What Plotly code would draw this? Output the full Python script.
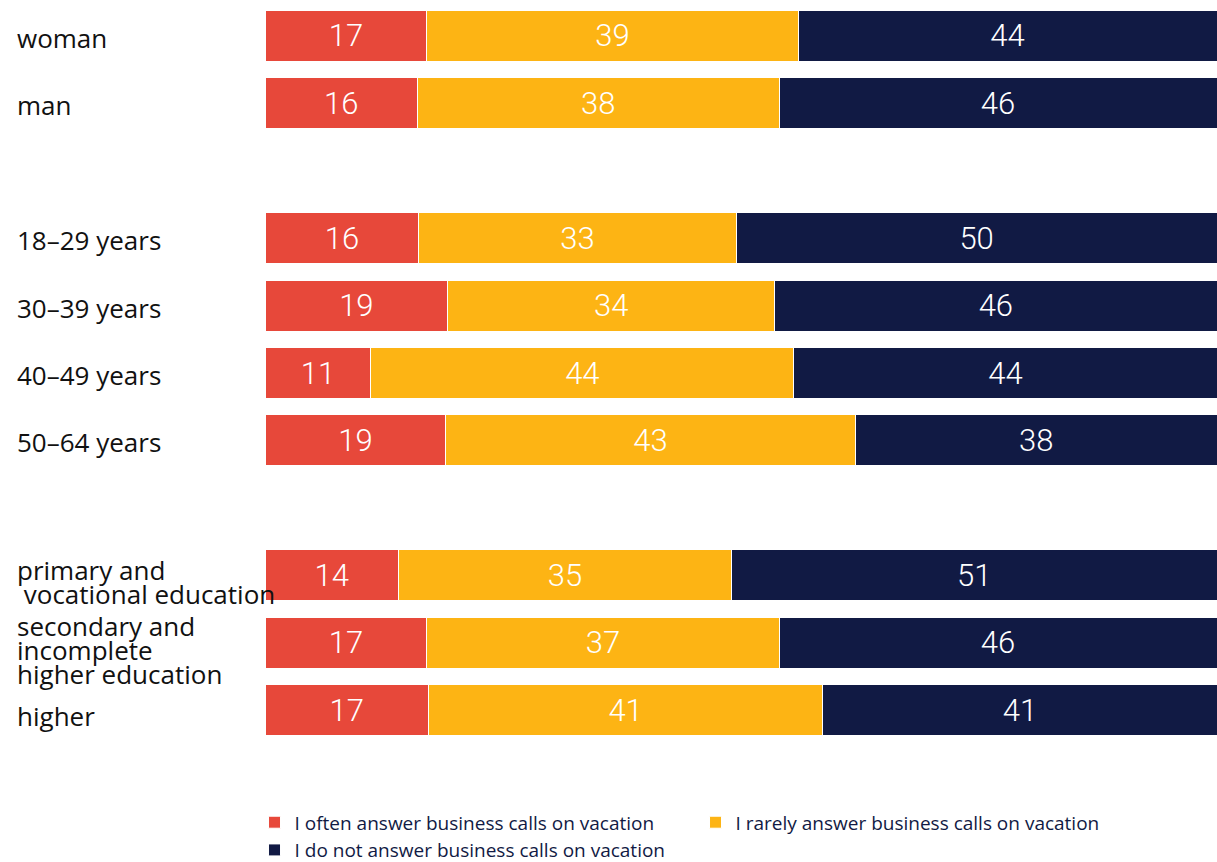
import plotly.graph_objects as go

categories = ["woman", "man", "", "18–29 years", "30–39 years", "40–49 years", "50–64 years", "",
              "primary and\n vocational education", "secondary and\nincomplete\nhigher education", "higher"]
often = [17, 16, None, 16, 19, 11, 19, None, 14, 17, 17]
rarely = [39, 38, None, 33, 34, 44, 43, None, 35, 37, 41]
never = [44, 46, None, 50, 46, 44, 38, None, 51, 46, 41]
series_names = ["I often answer business calls on vacation",
                "I rarely answer business calls on vacation",
                "I do not answer business calls on vacation"]
colors = ["#E7483A", "#FDB414", "#111A44"]

pos = list(range(len(categories)))
fig = go.Figure()
for name, vals, col in zip(series_names, [often, rarely, never], colors):
    fig.add_trace(go.Bar(
        y=pos, x=vals, name=name, orientation="h",
        marker=dict(color=col, line=dict(color="white", width=1)),
        text=[("" if v is None else str(v)) for v in vals],
        textposition="inside", insidetextanchor="middle", textangle=0,
        textfont=dict(color="white", size=31, family="Roboto", weight=300),
    ))

LINE = 24
extra = {10: 4}
for i, lab in enumerate(categories):
    if not lab:
        continue
    lines = lab.split("\n")
    n = len(lines)
    for k, ln in enumerate(lines):
        off = (k - (n - 1) / 2) * LINE
        fig.add_annotation(
            x=(15 - 265) / 952, xref="paper", y=i, yref="y", xanchor="left", yanchor="middle",
            text=ln.replace(" ", "&nbsp;", 1) if ln.startswith(" ") else ln,
            showarrow=False, yshift=-off - 2 - (5 if n > 1 else 0) - extra.get(i, 0),
            font=dict(family="Open Sans", size=26, color="#111111"),
        )

fig.update_layout(
    barmode="stack", barnorm="percent", bargap=0.245,
    width=1217, height=862,
    margin=dict(l=265, r=0, t=2, b=118, autoexpand=False),
    plot_bgcolor="white", paper_bgcolor="white",
    xaxis=dict(visible=False, range=[0, 100], fixedrange=True),
    yaxis=dict(visible=False, range=[10.5, -0.5]),
    showlegend=True,
    legend=dict(orientation="h", x=-0.011, xanchor="left", y=-0.080, yanchor="top",
                font=dict(family="Open Sans", size=19, color="#111A44"),
                tracegroupgap=0, traceorder="normal", entrywidthmode="pixels", entrywidth=396),
)
fig.write_html("out.html", post_script="document.body.style.margin='0';",
               config={"displayModeBar": False})
